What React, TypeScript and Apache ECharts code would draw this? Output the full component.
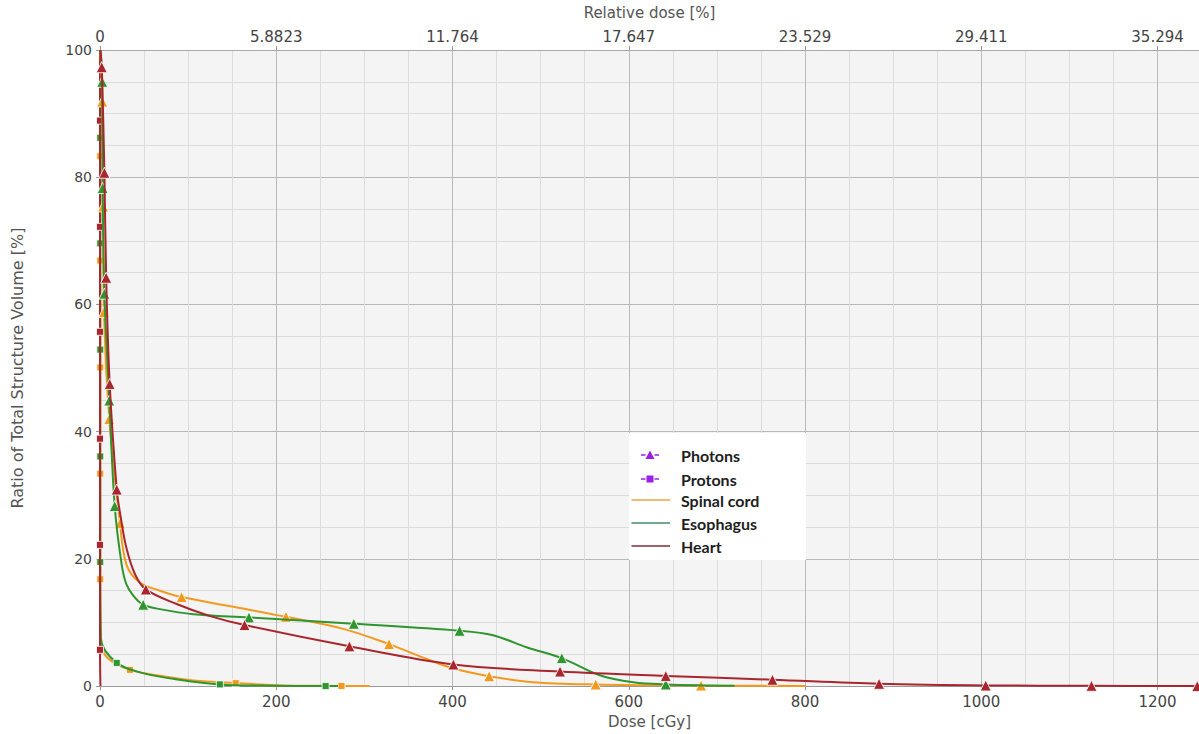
import React, { useEffect, useRef } from "react";
import * as echarts from "echarts";

// ---------- data ----------
// Photons (triangles): dose [cGy], volume [%], marker flag (1 = marker drawn)
const cordPhotonDose = [0.5, 2.5, 3.5, 4.5, 10.5, 22.7, 30, 45, 68, 92.6, 150, 211, 276, 328, 370, 400, 441.5, 491, 562.5, 682, 801];
const cordPhotonVol = [100, 91.9, 75.4, 58.8, 42.0, 25.6, 19.1, 16.3, 15.0, 14.0, 12.5, 10.9, 9.0, 6.6, 4.3, 2.8, 1.56, 0.62, 0.27, 0.1, 0.03];
const cordPhotonMark = [0, 1, 1, 1, 1, 1, 0, 0, 0, 1, 0, 1, 0, 1, 0, 0, 1, 0, 1, 1, 0];

const esoPhotonDose = [0.5, 2.5, 3, 5, 10.6, 16.7, 24.6, 30, 38, 49, 68, 106, 169, 288, 408, 446, 484, 524, 567, 605, 642, 720];
const esoPhotonVol = [100, 95, 78.3, 61.7, 44.9, 28.3, 19.1, 16, 14.2, 12.8, 12.1, 11.3, 10.8, 9.8, 8.7, 8.0, 6.1, 4.4, 1.7, 0.6, 0.27, 0.05];
const esoPhotonMark = [0, 1, 1, 1, 1, 1, 0, 0, 0, 1, 0, 0, 1, 1, 1, 0, 0, 1, 0, 0, 1, 0];

const heartPhotonDose = [0.5, 2, 5, 7, 11, 19, 23, 30, 40, 52, 87, 125, 164, 283, 401, 522, 642, 763, 884, 1005, 1125, 1245];
const heartPhotonVol = [100, 97.3, 80.7, 64.2, 47.5, 30.9, 27, 21.7, 17.5, 15.2, 12.9, 11, 9.6, 6.25, 3.4, 2.3, 1.6, 1.0, 0.36, 0.1, 0.05, 0];
const heartPhotonMark = [0, 1, 1, 1, 1, 1, 0, 0, 0, 1, 0, 0, 1, 1, 1, 1, 1, 1, 1, 1, 1, 1];

// Protons (squares)
const cordProtonDose = [0, 0.3, 0.3, 0.3, 0.3, 0.3, 1, 8, 34, 70, 106, 154, 200, 274, 306];
const cordProtonVol = [100, 83.3, 66.9, 50.1, 33.4, 16.8, 7, 4.5, 2.55, 1.6, 0.9, 0.47, 0.15, 0.02, 0];
const cordProtonMark = [0, 1, 1, 1, 1, 1, 0, 0, 1, 0, 0, 1, 0, 1, 0];

const esoProtonDose = [0, 0.3, 0.3, 0.3, 0.3, 0.3, 1, 19, 50, 90, 136, 200, 256, 270];
const esoProtonVol = [100, 86.2, 69.6, 52.9, 36.1, 19.5, 7.5, 3.65, 2.0, 1.0, 0.27, 0.05, 0, 0];
const esoProtonMark = [0, 1, 1, 1, 1, 1, 0, 1, 0, 0, 1, 0, 1, 0];

const heartProtonDose = [0, 0, 0, 0, 0, 0, 0, 0.5];
const heartProtonVol = [100, 88.9, 72.2, 55.7, 38.9, 22.2, 5.7, 0];
const heartProtonMark = [0, 1, 1, 1, 1, 1, 1, 0];

// Axis tick labels
const doseTicks = [0, 200, 400, 600, 800, 1000, 1200];
const relativeDoseLabels = ["0", "5.8823", "11.764", "17.647", "23.529", "29.411", "35.294"];
const legendNames = ["Photons", "Protons", "Spinal cord", "Esophagus", "Heart"];

// ---------- styles ----------
const ORANGE = "#f29a1f";
const GREEN = "#2f952f";
const RED = "#a8262d";
const PURPLE = "#9c1fe6";
const AXIS_FONT = "'DejaVu Sans', sans-serif";
const LEGEND_FONT = "bold 16px Lato, 'Noto Sans', sans-serif";

function build(dose: number[], vol: number[], mark: number[]) {
  return dose.map((d, i) => ({
    value: [d, vol[i]],
    symbol: mark[i] ? undefined : "none",
  }));
}

function dataSeries(name: string, color: string, symbol: string, size: number, data: any[], z: number) {
  return {
    name,
    type: "line",
    xAxisIndex: 0,
    yAxisIndex: 0,
    smooth: 0.35,
    symbol,
    symbolSize: size,
    showAllSymbol: true,
    z,
    lineStyle: { color, width: 2 },
    itemStyle: { color, borderColor: "rgba(255,255,255,0.8)", borderWidth: 1 },
    data,
  };
}

function legendGraphic() {
  const boxX = 629;
  const boxY = 433;
  const rowY = [455, 479, 500, 523, 546];
  const textX = 681;
  const lineColors = ["", "", "#e9a445", "#3f8c68", "#7d2e3e"];
  const Z = 100;
  const els: any[] = [
    { type: "rect", z: Z, shape: { x: boxX, y: boxY, width: 177, height: 127 }, style: { fill: "#ffffff" } },
  ];
  legendNames.forEach((name, i) => {
    const y = rowY[i];
    if (i < 2) {
      els.push({ type: "line", z: Z + 1, shape: { x1: 641, y1: y, x2: 645.5, y2: y }, style: { stroke: PURPLE, lineWidth: 1.5 } });
      els.push({ type: "line", z: Z + 1, shape: { x1: 654.5, y1: y, x2: 659, y2: y }, style: { stroke: PURPLE, lineWidth: 1.5 } });
      if (i === 0) {
        els.push({ type: "polygon", z: Z + 1, shape: { points: [[650, y - 4.5], [645.5, y + 4], [654.5, y + 4]] }, style: { fill: PURPLE } });
      } else {
        els.push({ type: "rect", z: Z + 1, shape: { x: 646.5, y: y - 3.5, width: 7, height: 7 }, style: { fill: PURPLE } });
      }
    } else {
      els.push({ type: "line", z: Z + 1, shape: { x1: 631.5, y1: y, x2: 670, y2: y }, style: { stroke: lineColors[i], lineWidth: 1.5 } });
    }
    els.push({
      type: "text",
      z: Z + 1,
      x: textX,
      y,
      style: { text: name, font: LEGEND_FONT, fill: "#1e1e1e", align: "left", verticalAlign: "middle" },
    });
  });
  return els;
}

export default function App() {
  const ref = useRef<HTMLDivElement>(null);

  useEffect(() => {
    if (!ref.current) return;
    const chart = echarts.init(ref.current, undefined, { renderer: "svg" });

    const topFormatter = (v: number) => {
      const idx = doseTicks.indexOf(v);
      return idx >= 0 ? relativeDoseLabels[idx] : "";
    };

    chart.setOption({
      animation: false,
      textStyle: { fontFamily: AXIS_FONT },
      grid: {
        left: 100,
        right: 0,
        top: 49,
        bottom: 45,
        show: true,
        backgroundColor: "#f4f4f4",
        borderWidth: 0,
      },
      graphic: legendGraphic(),
      xAxis: [
        {
          type: "value",
          position: "bottom",
          min: 0,
          max: 1247,
          interval: 200,
          name: "Dose [cGy]",
          nameLocation: "middle",
          nameGap: 25,
          nameTextStyle: { fontSize: 15, color: "#555", fontFamily: AXIS_FONT },
          axisLine: { show: true, onZero: false, lineStyle: { color: "#9a9a9a" } },
          axisTick: { show: true, length: 4, lineStyle: { color: "#9a9a9a" } },
          axisLabel: { fontSize: 15, color: "#444", margin: 8, showMaxLabel: false, formatter: (v: number) => String(v) },
          splitLine: { show: true, lineStyle: { color: "#b9b9b9", width: 1 } },
          minorTick: { show: false, splitNumber: 4 },
          minorSplitLine: { show: true, lineStyle: { color: "#dcdcdc", width: 1 } },
        },
        {
          type: "value",
          position: "top",
          min: 0,
          max: 1247,
          interval: 200,
          name: "Relative dose [%]",
          nameLocation: "middle",
          nameGap: 30,
          nameTextStyle: { fontSize: 15, color: "#555", fontFamily: AXIS_FONT },
          axisLine: { show: true, onZero: false, lineStyle: { color: "#a8a8a8" } },
          axisTick: { show: true, length: 4, lineStyle: { color: "#9a9a9a" } },
          axisLabel: { fontSize: 15, color: "#444", margin: 6, showMaxLabel: false, formatter: topFormatter },
          splitLine: { show: false },
        },
      ],
      yAxis: {
        type: "value",
        min: 0,
        max: 100,
        interval: 20,
        name: "Ratio of Total Structure Volume [%]",
        nameLocation: "middle",
        nameGap: 75,
        nameRotate: 90,
        nameTextStyle: { fontSize: 16, color: "#555", fontFamily: AXIS_FONT },
        axisLine: { show: true, lineStyle: { color: "#8a8a8a" } },
        axisTick: { show: true, length: 4, lineStyle: { color: "#9a9a9a" } },
        axisLabel: { fontSize: 14, color: "#444", margin: 8 },
        splitLine: { show: true, lineStyle: { color: "#b9b9b9", width: 1 } },
        minorTick: { show: false, splitNumber: 4 },
        minorSplitLine: { show: true, lineStyle: { color: "#dcdcdc", width: 1 } },
      },
      series: [
        dataSeries("Spinal cord protons", ORANGE, "rect", 7, build(cordProtonDose, cordProtonVol, cordProtonMark), 2),
        dataSeries("Esophagus protons", GREEN, "rect", 7, build(esoProtonDose, esoProtonVol, esoProtonMark), 3),
        dataSeries("Heart protons", RED, "rect", 7, build(heartProtonDose, heartProtonVol, heartProtonMark), 4),
        dataSeries("Spinal cord photons", ORANGE, "triangle", 11, build(cordPhotonDose, cordPhotonVol, cordPhotonMark), 5),
        dataSeries("Esophagus photons", GREEN, "triangle", 11, build(esoPhotonDose, esoPhotonVol, esoPhotonMark), 6),
        dataSeries("Heart photons", RED, "triangle", 11, build(heartPhotonDose, heartPhotonVol, heartPhotonMark), 7),
      ],
    });

    return () => chart.dispose();
  }, []);

  return (
    <div
      ref={ref}
      style={{ position: "fixed", left: 0, top: 0, width: 1199, height: 734, background: "#ffffff" }}
    />
  );
}
